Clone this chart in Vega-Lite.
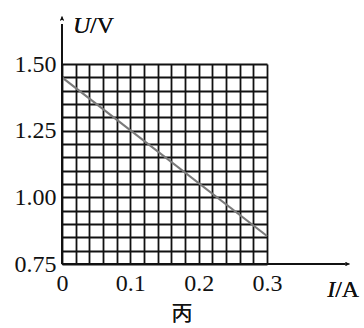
{
  "$schema": "https://vega.github.io/schema/vega-lite/v6.json",
  "autosize": "none",
  "width": 205,
  "height": 200,
  "padding": {"left": 62, "top": 64, "right": 97, "bottom": 64},
  "background": "white",
  "config": {
    "view": {"stroke": null},
    "axisX": {
      "domain": false, "ticks": false, "grid": true, "gridColor": "#111111", "gridWidth": 1.8, "gridOpacity": 1,
      "labelFont": "Liberation Serif", "labelFontSize": 24, "labelColor": "#111111", "labelPadding": 7,
      "labelFlush": false, "labelOverlap": false, "labelBaseline": "top"
    },
    "axisY": {
      "domain": false, "ticks": false, "grid": true, "gridColor": "#111111", "gridWidth": 1.8, "gridOpacity": 1,
      "labelFont": "Liberation Serif", "labelFontSize": 24, "labelColor": "#111111", "labelPadding": 6,
      "labelFlush": false, "labelOverlap": false
    }
  },
  "data": {"values": [{"I": 0, "U": 1.45}, {"I": 0.3, "U": 0.855}]},
  "layer": [
    {
      "mark": {"type": "line", "color": "#7a7a7a", "strokeWidth": 2.2},
      "encoding": {
        "x": {"field": "I", "type": "quantitative", "scale": {"domain": [0, 0.3], "nice": false, "zero": false}, "title": null,
          "axis": {"tickCount": 15,
            "labelExpr": "abs(datum.value*10-round(datum.value*10))<0.001 ? format(datum.value,'~g') : ''"}},
        "y": {"field": "U", "type": "quantitative", "scale": {"domain": [0.75, 1.5], "nice": false, "zero": false}, "title": null,
          "axis": {"tickCount": 15,
            "labelExpr": "abs(datum.value*4-round(datum.value*4))<0.001 ? format(datum.value,'.2f') : ''"}}
      }
    },
    {
      "mark": {"type": "rule", "color": "#111111", "strokeWidth": 1.8},
      "encoding": {"x": {"datum": 0}, "y": {"datum": 0.75}, "y2": {"datum": 1.65}}
    },
    {
      "mark": {"type": "rule", "color": "#111111", "strokeWidth": 1.8},
      "encoding": {"y": {"datum": 0.75}, "x": {"datum": 0}, "x2": {"datum": 0.415}}
    },
    {
      "mark": {"type": "point", "filled": true, "color": "#111111", "opacity": 1, "size": 64, "shape": "M0,0L-0.5,1.2L0,0.95L0.5,1.2Z"},
      "encoding": {"x": {"datum": 0}, "y": {"datum": 1.68}}
    },
    {
      "mark": {"type": "point", "filled": true, "color": "#111111", "opacity": 1, "size": 64, "shape": "M0,0L-1.2,-0.5L-0.95,0L-1.2,0.5Z"},
      "encoding": {"x": {"datum": 0.4215}, "y": {"datum": 0.75}}
    },
    {
      "mark": {"type": "text", "text": "U", "font": "Liberation Serif", "fontStyle": "italic", "fontSize": 24, "align": "left", "baseline": "alphabetic", "dx": 11, "color": "#111111"},
      "encoding": {"x": {"datum": 0}, "y": {"datum": 1.616}}
    },
    {
      "mark": {"type": "text", "text": "/V", "font": "Liberation Serif", "fontSize": 24, "align": "left", "baseline": "alphabetic", "dx": 28, "color": "#111111"},
      "encoding": {"x": {"datum": 0}, "y": {"datum": 1.616}}
    },
    {
      "mark": {"type": "text", "text": "I", "font": "Liberation Serif", "fontStyle": "italic", "fontSize": 24, "align": "left", "baseline": "alphabetic", "color": "#111111"},
      "encoding": {"x": {"datum": 0.388}, "y": {"datum": 0.626}}
    },
    {
      "mark": {"type": "text", "text": "/A", "font": "Liberation Serif", "fontSize": 24, "align": "left", "baseline": "alphabetic", "dx": 8, "color": "#111111"},
      "encoding": {"x": {"datum": 0.388}, "y": {"datum": 0.626}}
    },
    {
      "mark": {"type": "text", "text": "丙", "font": "Noto Sans CJK SC", "fontSize": 21, "align": "center", "baseline": "middle", "color": "#111111"},
      "encoding": {"x": {"datum": 0.1756}, "y": {"datum": 0.5625}}
    }
  ]
}
